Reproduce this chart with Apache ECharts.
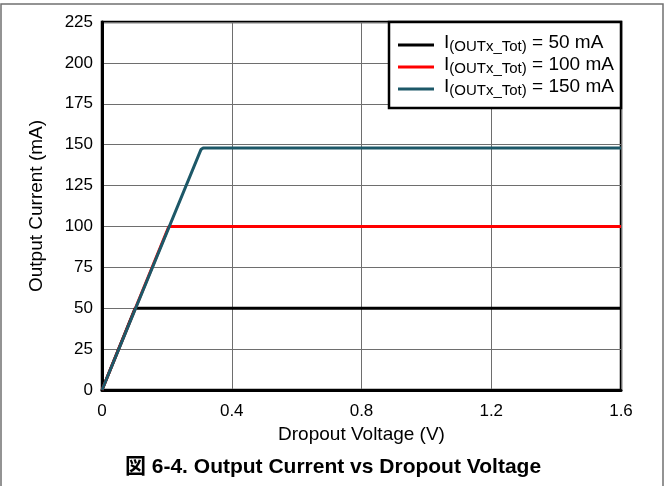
<!DOCTYPE html>
<html>
<head>
<meta charset="utf-8">
<script src="https://cdn.jsdelivr.net/npm/echarts@6/dist/echarts.min.js"></script>
<style>
  html, body { margin: 0; padding: 0; background: #fff; }
  #chart { width: 666px; height: 486px; }
</style>
</head>
<body>
<div id="chart"></div>
<script>
// Dropout voltage (V) and output current (mA) for each load setting
const voltage50 = [0, 0.102, 1.6];
const current50 = [0, 50, 50];
const voltage100 = [0, 0.206, 1.6];
const current100 = [0, 100, 100];
const voltage150 = [0, 0.305, 0.312, 1.6];
const current150 = [0, 147, 148, 148];

const loadLabels = ['50 mA', '100 mA', '150 mA'];
const seriesColors = ['#000000', '#ff0000', '#1d5868'];
const xTicks = { min: 0, max: 1.6, interval: 0.4 };
const yTicks = { min: 0, max: 225, interval: 25 };

const FONT = '"Liberation Sans", Arial, "Noto Sans CJK JP", sans-serif';

function pairs(xs, ys) {
  return xs.map((x, i) => [x, ys[i]]);
}

const curves = [pairs(voltage50, current50), pairs(voltage100, current100), pairs(voltage150, current150)];
const names = loadLabels.map(l => 'I(OUTx_Tot) = ' + l);

const chart = echarts.init(document.getElementById('chart'), null, { renderer: 'canvas' });

chart.setOption({
  animation: false,
  backgroundColor: '#ffffff',
  textStyle: { fontFamily: FONT },
  title: {
    text: '図 6-4. Output Current vs Dropout Voltage',
    left: 'center',
    top: 457,
    padding: 0,
    textStyle: { fontFamily: FONT, fontSize: 21, fontWeight: 'bold', color: '#000' }
  },
  grid: {
    left: 102, right: 45, top: 22, bottom: 96,
    show: true, borderColor: '#000', borderWidth: 2.5, backgroundColor: 'transparent'
  },
  xAxis: {
    type: 'value',
    min: xTicks.min, max: xTicks.max, interval: xTicks.interval,
    name: 'Dropout Voltage (V)',
    nameLocation: 'middle',
    nameGap: 34,
    nameTextStyle: { fontFamily: FONT, fontSize: 19, color: '#000' },
    axisLine: { show: true, lineStyle: { color: '#000', width: 3 } },
    axisTick: { show: false },
    axisLabel: { fontFamily: FONT, fontSize: 17, color: '#000', margin: 13,
      formatter: v => String(+v.toFixed(1)) },
    splitLine: { show: true, lineStyle: { color: '#6e6e6e', width: 1 } }
  },
  yAxis: {
    type: 'value',
    min: yTicks.min, max: yTicks.max, interval: yTicks.interval,
    name: 'Output Current (mA)',
    nameLocation: 'middle',
    nameGap: 56,
    nameTextStyle: { fontFamily: FONT, fontSize: 19, color: '#000' },
    axisLine: { show: true, lineStyle: { color: '#000', width: 3 } },
    axisTick: { show: false },
    axisLabel: { fontFamily: FONT, fontSize: 17, color: '#000', margin: 9 },
    splitLine: { show: true, lineStyle: { color: '#6e6e6e', width: 1 } }
  },
  legend: {
    orient: 'vertical',
    left: 398,
    top: 33,
    padding: 0,
    z: 20,
    itemGap: -2,
    itemWidth: 36,
    itemHeight: 3,
    icon: 'rect',
    data: names,
    formatter: name => {
      const value = name.split(' = ')[1];
      return '{m|I}{s|(OUTx_Tot)}{m| = ' + value + '}';
    },
    textStyle: {
      fontFamily: FONT,
      color: '#000',
      padding: [0, 0, 0, 5],
      rich: {
        m: { fontFamily: FONT, fontSize: 19, color: '#000', lineHeight: 21, padding: [0, 0, 5, 0] },
        s: { fontFamily: FONT, fontSize: 15, color: '#000', lineHeight: 15, padding: [4.5, 0, 0, 0] }
      }
    }
  },
  graphic: [
    {
      type: 'rect',
      z: 10,
      shape: { x: 1, y: 4, width: 662, height: 600 },
      style: { fill: 'none', stroke: '#707070', lineWidth: 1.5 }
    },
    {
      type: 'rect',
      z: 10,
      shape: { x: 389, y: 22, width: 232, height: 86 },
      style: { fill: '#ffffff', stroke: '#000000', lineWidth: 2.5 }
    }
  ],
  series: curves.map((data, i) => ({
    name: names[i],
    type: 'line',
    data: data,
    showSymbol: false,
    symbol: 'none',
    lineStyle: { color: seriesColors[i], width: 3 },
    itemStyle: { color: seriesColors[i] },
    z: 3 + i
  }))
});
</script>
</body>
</html>
